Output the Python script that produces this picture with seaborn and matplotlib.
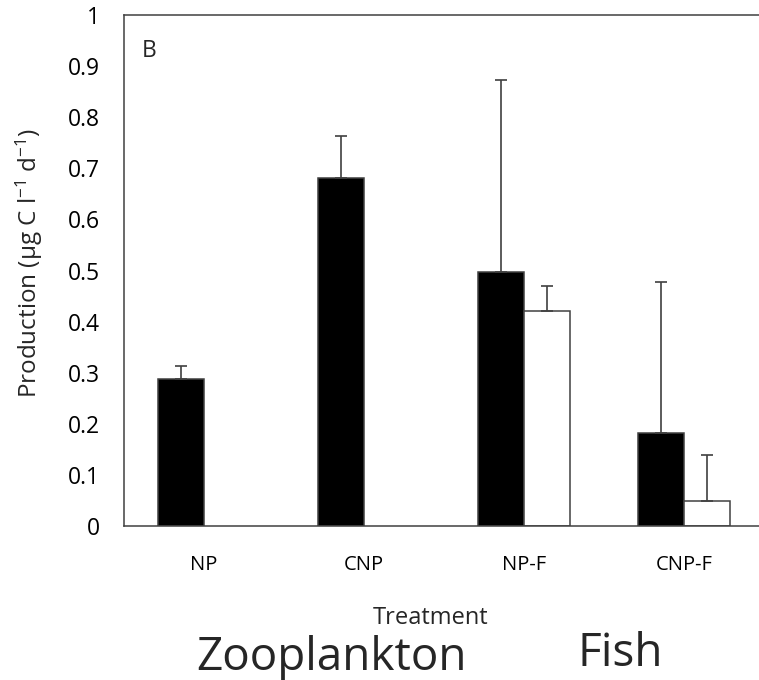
import matplotlib
matplotlib.use("Agg")
import matplotlib.pyplot as plt
import seaborn as sns
import pandas as pd
import numpy as np

treatments = ["NP", "CNP", "NP-F", "CNP-F"]
groups = ["Zooplankton", "Fish"]
zoo_values = [0.287, 0.681, 0.498, 0.181]
zoo_upper = [0.312, 0.764, 0.874, 0.478]
fish_values = [np.nan, np.nan, 0.420, 0.048]
fish_upper = [np.nan, np.nan, 0.470, 0.138]
yticks = [0, 0.1, 0.2, 0.3, 0.4, 0.5, 0.6, 0.7, 0.8, 0.9, 1]
ytick_labels = ["0", "0.1", "0.2", "0.3", "0.4", "0.5", "0.6", "0.7", "0.8", "0.9", "1"]

df = pd.DataFrame({
    "Treatment": treatments * 2,
    "Group": [groups[0]] * 4 + [groups[1]] * 4,
    "Value": zoo_values + fish_values,
})
upper = {groups[0]: zoo_upper, groups[1]: fish_upper}

sns.set_style("white")
plt.rcParams["font.family"] = ["Open Sans", "DejaVu Sans"]
plt.rcParams["mathtext.fontset"] = "custom"
plt.rcParams["mathtext.rm"] = "Open Sans"
plt.rcParams["mathtext.it"] = "Open Sans"

axcol = "#404040"
fig = plt.figure(figsize=(7.59, 6.8), dpi=100)
ax = fig.add_axes([124 / 759, 1 - 525.7 / 680, 640 / 759, (525.7 - 15.3) / 680])

sns.barplot(data=df, x="Treatment", y="Value", hue="Group", order=treatments,
            hue_order=groups, palette=["black", "white"], width=0.575,
            errorbar=None, edgecolor=axcol, linewidth=1.1, ax=ax, legend=False,
            saturation=1)

for cont, g in zip(ax.containers, groups):
    for bar in cont:
        h = bar.get_height()
        if not np.isfinite(h) or h == 0:
            continue
        xc = bar.get_x() + bar.get_width() / 2
        idx = int(round(xc))
        up = upper[g][idx]
        if np.isfinite(up):
            ax.errorbar([xc], [h], yerr=[[0], [up - h]], fmt="none",
                        ecolor=axcol, elinewidth=1.2, capsize=4.5, capthick=1.2)

ax.set_xlim(-0.5, 3.5)
ax.set_ylim(0, 1)
ax.set_yticks(yticks)
ax.set_yticklabels(ytick_labels, fontsize=16.5)
ax.set_xticks(range(4))
ax.set_xticklabels(treatments, fontsize=14.5)
ax.set_xticks([-0.5, 0.5, 1.5, 2.5, 3.5], minor=True)
ax.tick_params(axis="x", which="major", length=0, pad=21)
ax.tick_params(axis="x", which="minor", length=6.5, width=1.1, color=axcol, direction="out")
ax.tick_params(axis="y", length=6.5, width=1.1, color=axcol, direction="out", pad=11)
ax.tick_params(axis="both", labelcolor="black")

for s in ["left", "bottom", "top"]:
    ax.spines[s].set_visible(True)
    ax.spines[s].set_color(axcol)
    ax.spines[s].set_linewidth(1.1)
ax.spines["right"].set_visible(False)

ax.set_xlabel("")
ax.set_ylabel("Production (µg C l$^{-1}$ d$^{-1}$)", fontsize=17.5)
ax.yaxis.set_label_coords(-0.124, 0.515)
ax.text(0.028, 0.930, "B", transform=ax.transAxes, fontsize=16.5, ha="left", va="center")

fig.text(431 / 759, 1 - 618 / 680, "Treatment", fontsize=17, ha="center", va="center")
fig.text(331 / 759, 1 - 670 / 680, "Zooplankton", fontsize=33, ha="center", va="baseline")
fig.text(620 / 759, 1 - 666 / 680, "Fish", fontsize=33, ha="center", va="baseline")

fig.savefig("out.png", dpi=100)
